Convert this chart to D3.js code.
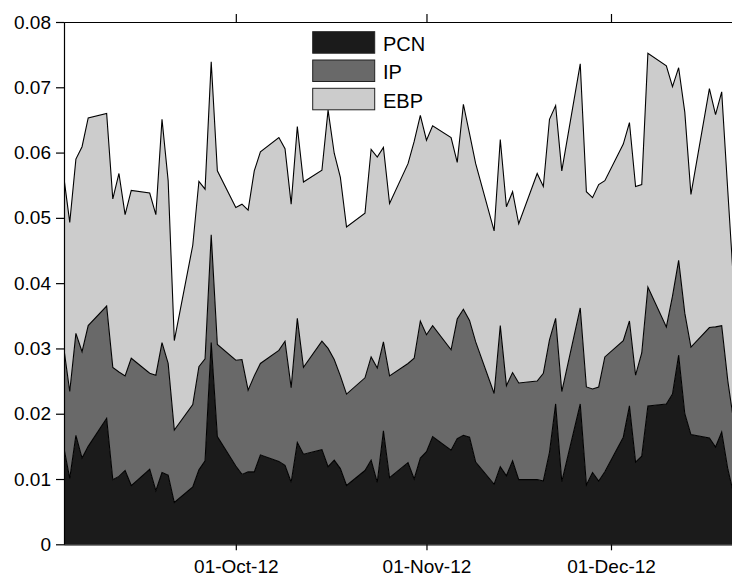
<!DOCTYPE html>
<html><head><meta charset="utf-8">
<script src="https://cdn.jsdelivr.net/npm/d3@7"></script>
<style>
html,body{margin:0;padding:0;background:#fff;}
svg text{font-family:"Liberation Sans",Arial,Helvetica,sans-serif;fill:#000;}
</style></head>
<body><svg id="chart" width="732" height="576"></svg>
<script>
const dates = [
"2012-09-03","2012-09-04","2012-09-05","2012-09-06","2012-09-07",
"2012-09-10","2012-09-11","2012-09-12","2012-09-13","2012-09-14",
"2012-09-17","2012-09-18","2012-09-19","2012-09-20","2012-09-21",
"2012-09-24","2012-09-25","2012-09-26","2012-09-27","2012-09-28",
"2012-10-01","2012-10-02","2012-10-03","2012-10-04","2012-10-05",
"2012-10-08","2012-10-09","2012-10-10","2012-10-11","2012-10-12",
"2012-10-15","2012-10-16","2012-10-17","2012-10-18","2012-10-19",
"2012-10-22","2012-10-23","2012-10-24","2012-10-25","2012-10-26",
"2012-10-29","2012-10-30","2012-10-31","2012-11-01","2012-11-02",
"2012-11-05","2012-11-06","2012-11-07","2012-11-08","2012-11-09",
"2012-11-12","2012-11-13","2012-11-14","2012-11-15","2012-11-16",
"2012-11-19","2012-11-20","2012-11-21","2012-11-22","2012-11-23",
"2012-11-26","2012-11-27","2012-11-28","2012-11-29","2012-11-30",
"2012-12-03","2012-12-04","2012-12-05","2012-12-06","2012-12-07",
"2012-12-10","2012-12-11","2012-12-12","2012-12-13","2012-12-14",
"2012-12-17","2012-12-18","2012-12-19","2012-12-20","2012-12-21"];

const PCN = [
0.0150,0.0101,0.0167,0.0132,0.0150,
0.0193,0.0099,0.0104,0.0113,0.0090,
0.0115,0.0082,0.0110,0.0106,0.0064,
0.0088,0.0114,0.0128,0.0309,0.0165,
0.0120,0.0107,0.0111,0.0111,0.0137,
0.0127,0.0121,0.0095,0.0156,0.0138,
0.0145,0.0119,0.0129,0.0116,0.0090,
0.0113,0.0129,0.0095,0.0174,0.0102,
0.0125,0.0100,0.0132,0.0142,0.0165,
0.0144,0.0162,0.0167,0.0164,0.0126,
0.0092,0.0119,0.0105,0.0128,0.0099,
0.0099,0.0097,0.0141,0.0215,0.0096,
0.0215,0.0091,0.0110,0.0097,0.0111,
0.0164,0.0212,0.0126,0.0135,0.0212,
0.0215,0.0230,0.0290,0.0200,0.0168,
0.0163,0.0149,0.0172,0.0115,0.0075];

const IP = [
0.0153,0.0133,0.0156,0.0163,0.0185,
0.0172,0.0172,0.0160,0.0145,0.0195,
0.0147,0.0177,0.0199,0.0171,0.0111,
0.0126,0.0158,0.0156,0.0165,0.0141,
0.0162,0.0176,0.0125,0.0147,0.0140,
0.0170,0.0190,0.0145,0.0190,0.0133,
0.0166,0.0181,0.0154,0.0142,0.0140,
0.0142,0.0158,0.0175,0.0136,0.0156,
0.0152,0.0185,0.0210,0.0179,0.0170,
0.0154,0.0183,0.0193,0.0179,0.0184,
0.0139,0.0216,0.0138,0.0135,0.0148,
0.0151,0.0165,0.0172,0.0131,0.0138,
0.0147,0.0150,0.0128,0.0144,0.0176,
0.0148,0.0130,0.0133,0.0158,0.0182,
0.0118,0.0150,0.0145,0.0154,0.0134,
0.0169,0.0184,0.0163,0.0135,0.0110];

const EBP = [
0.0262,0.0259,0.0267,0.0314,0.0318,
0.0295,0.0258,0.0304,0.0247,0.0257,
0.0276,0.0246,0.0342,0.0280,0.0137,
0.0244,0.0284,0.0260,0.0265,0.0266,
0.0234,0.0238,0.0276,0.0314,0.0324,
0.0326,0.0295,0.0281,0.0294,0.0284,
0.0262,0.0365,0.0316,0.0304,0.0256,
0.0252,0.0318,0.0323,0.0298,0.0264,
0.0306,0.0332,0.0315,0.0298,0.0306,
0.0325,0.0240,0.0314,0.0286,0.0273,
0.0249,0.0285,0.0274,0.0277,0.0244,
0.0318,0.0286,0.0338,0.0326,0.0338,
0.0374,0.0299,0.0293,0.0310,0.0270,
0.0301,0.0304,0.0289,0.0258,0.0358,
0.0400,0.0321,0.0295,0.0308,0.0234,
0.0366,0.0325,0.0358,0.0290,0.0205];

const seriesNames = ["PCN","IP","EBP"];
const seriesColors = ["#1b1b1b","#696969","#cccccc"];
const yTicks = [0,0.01,0.02,0.03,0.04,0.05,0.06,0.07,0.08];
const xTickDates = ["2012-10-01","2012-11-01","2012-12-01"];

const parse = d3.timeParse("%Y-%m-%d");
const rows = dates.map((d,i)=>({date:parse(d), PCN:PCN[i], IP:IP[i], EBP:EBP[i]}));

const svg = d3.select("#chart");
const mLeft = 64, mTop = 22, mBottom = 544.3;

const x = d3.scaleTime()
  .domain([parse("2012-09-03"), parse("2012-12-21")])
  .range([63.6, 734]);
const y = d3.scaleLinear().domain([0,0.08]).range([mBottom, mTop]);

const stacked = d3.stack().keys(seriesNames)(rows);

const area = d3.area()
  .x(d=>x(d.data.date))
  .y0(d=>y(d[0]))
  .y1(d=>y(d[1]));
const line = d3.line()
  .x(d=>x(d.data.date))
  .y(d=>y(d[1]));

svg.append("defs").append("clipPath").attr("id","plot")
  .append("rect").attr("x",mLeft).attr("y",mTop).attr("width",740-mLeft).attr("height",mBottom-mTop);

const g = svg.append("g").attr("clip-path","url(#plot)");
stacked.forEach((s,i)=>{
  g.append("path").attr("d",area(s)).attr("fill",seriesColors[i]).attr("stroke","none");
});
stacked.forEach((s,i)=>{
  g.append("path").attr("d",line(s)).attr("fill","none").attr("stroke","#000").attr("stroke-width",1.1);
});

const fs = "19px";
const ya = svg.append("g").attr("transform",`translate(${mLeft},0)`)
  .call(d3.axisLeft(y).tickValues(yTicks).tickSize(8).tickSizeOuter(0).tickPadding(5)
    .tickFormat(d=> d===0 ? "0" : d3.format(".2f")(d)));
const xa = svg.append("g").attr("transform",`translate(0,${mBottom})`)
  .call(d3.axisBottom(x).tickValues(xTickDates.map(parse)).tickSize(6).tickSizeOuter(0).tickPadding(9.5)
    .tickFormat(d3.timeFormat("%d-%b-%y")));
const ta = svg.append("g").attr("transform",`translate(0,${mTop})`)
  .call(d3.axisTop(x).tickValues(xTickDates.map(parse)).tickSize(8).tickSizeOuter(0).tickFormat(""));

[ya,xa,ta].forEach(a=>{
  a.selectAll("text").style("font-size",fs).attr("fill","#000");
  a.selectAll("path,line").attr("stroke","#000").attr("stroke-width",1.2);
});

const lg = svg.append("g");
seriesNames.forEach((n,i)=>{
  const yy = 31.7 + i*28.3;
  lg.append("rect").attr("x",312.7).attr("y",yy).attr("width",62).attr("height",21.5)
    .attr("fill",seriesColors[i]).attr("stroke","#222").attr("stroke-width",1);
  lg.append("text").attr("x",383).attr("y",yy+19.3).text(n).style("font-size","20px");
});
</script></body></html>
